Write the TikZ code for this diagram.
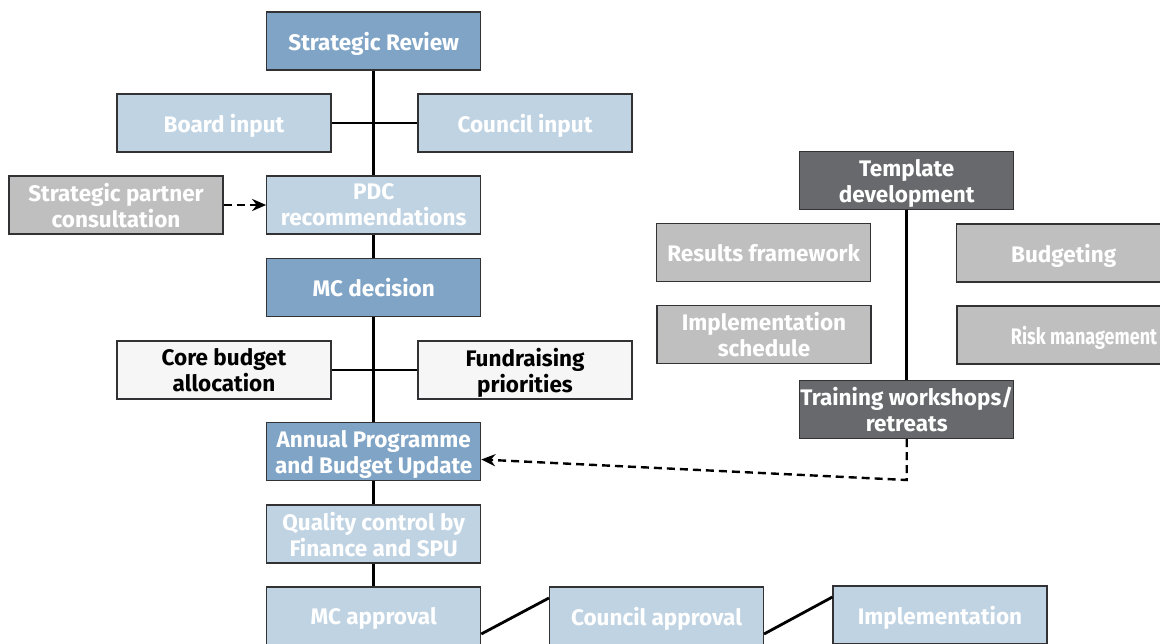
\documentclass[tikz,border=0pt]{standalone}
\usepackage{fontspec}
\setmainfont{Fira Sans}
\usetikzlibrary{arrows.meta}
\definecolor{deepblue}{RGB}{127,164,198}
\definecolor{paleblue}{RGB}{192,211,227}
\definecolor{midgray}{RGB}{191,191,192}
\definecolor{darkgray}{RGB}{104,105,108}
\definecolor{paper}{RGB}{245,246,245}
\definecolor{edge}{RGB}{50,50,52}
\begin{document}
\begin{tikzpicture}[x=1pt,y=-1pt,
  box/.style={draw=edge, line width=1.1pt, minimum width=214pt, minimum height=58pt,
    inner sep=0pt, align=center, text=white, text depth=0pt,
    font=\bfseries\fontsize{22.5}{26}\selectfont},
  major/.style={box, fill=deepblue},
  minor/.style={box, fill=paleblue},
  tool/.style={box, fill=midgray},
  dark/.style={box, fill=darkgray},
  plain/.style={box, fill=paper, text=black},
  link/.style={line width=2.8pt},
  feed/.style={line width=2.4pt, dash pattern=on 8pt off 5pt, -{Stealth[length=14pt,width=12pt]}}]
\useasboundingbox (0,0) rectangle (1160,644);
% main process column
\node[major] (review) at (373.7,41) {Strategic Review};
\node[minor] (board) at (224,123) {Board input};
\node[minor] (council) at (525,123) {Council input};
\node[tool] (partner) at (116,205) {Strategic partner\\consultation};
\node[minor] (pdc) at (373.7,205) {PDC\\recommendations};
\node[major] (mcdec) at (373.7,287.5) {MC decision};
\node[plain] (core) at (224,370) {Core budget\\allocation};
\node[plain] (fund) at (525,370) {Fundraising\\priorities};
\node[major] (apbu) at (373.7,451.5) {Annual Programme\\and Budget Update};
\node[minor] (qc) at (373.7,534) {Quality control by\\Finance and SPU};
\node[minor] (mcapp) at (373.7,616) {MC approval};
\node[minor] (counc) at (656.5,616) {Council approval};
\node[minor] (impl) at (940,615) {Implementation};
% template and training column
\node[dark] (templ) at (906.7,180.5) {Template\\development};
\node[tool] (results) at (763.7,252.5) {Results framework};
\node[tool] (budget) at (1063.7,253) {Budgeting};
\node[tool] (sched) at (764,334.5) {Implementation\\schedule};
\node[tool, minimum width=254pt] (risk) at (1084,335) {\scalebox{0.8}[1]{Risk management}};
\node[dark] (train) at (906.7,409.5) {Training workshops/\\retreats};
\coordinate (turn) at (906.7,480);
% connectors
\draw[link] (review) -- (pdc);
\draw[link] (board) -- (council);
\draw[link] (pdc) -- (mcdec);
\draw[link] (mcdec) -- (apbu);
\draw[link] (core) -- (fund);
\draw[link] (apbu) -- (qc);
\draw[link] (qc) -- (mcapp);
\draw[link] ([yshift=-18pt]mcapp.east) -- ([yshift=18pt]counc.west);
\draw[link] ([yshift=-18pt]counc.east) -- ([yshift=18pt]impl.west);
\draw[link] (templ) -- (train);
\draw[feed] (partner) -- (pdc);
\draw[feed] (train) -- (turn) -- ([yshift=-8pt]apbu.east);
\end{tikzpicture}
\end{document}
